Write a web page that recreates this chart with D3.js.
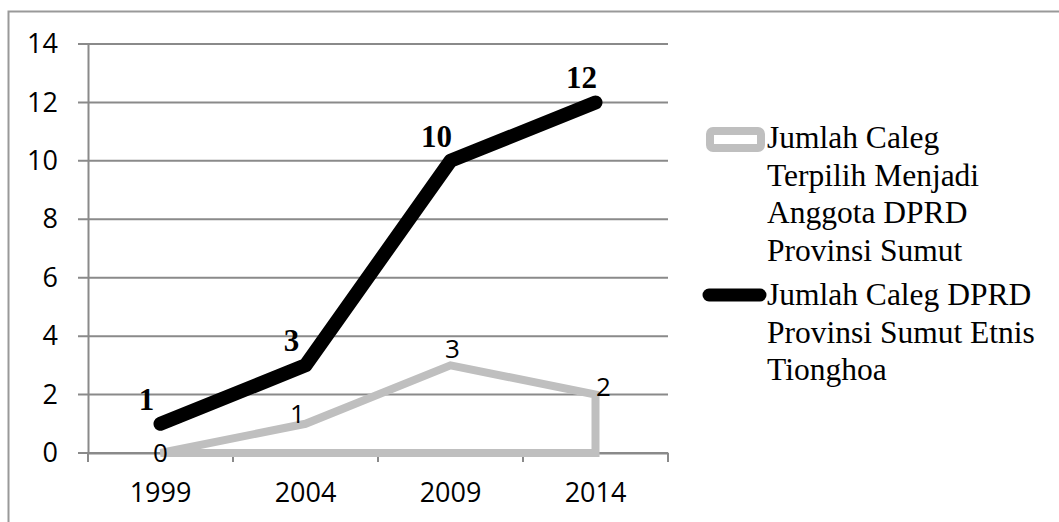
<!DOCTYPE html>
<html>
<head>
<meta charset="utf-8">
<script src="https://cdn.jsdelivr.net/npm/d3@7"></script>
<style>
  html, body { margin: 0; padding: 0; background: #fff; }
  svg { display: block; }
</style>
</head>
<body>
<div id="chart"></div>
<script>
  const YEARS   = ["1999", "2004", "2009", "2014"];
  const TERPILIH = [0, 1, 3, 2];
  const CALEG    = [1, 3, 10, 12];
  const Y_TICKS  = [0, 2, 4, 6, 8, 10, 12, 14];
  const LEGEND_GRAY  = ["Jumlah Caleg", "Terpilih Menjadi", "Anggota DPRD", "Provinsi Sumut"];
  const LEGEND_BLACK = ["Jumlah Caleg DPRD", "Provinsi Sumut Etnis", "Tionghoa"];

  const W = 1059, H = 522;
  const PLOT = { left: 88, right: 668, top: 44, bottom: 453 };
  const SANS  = "'Open Sans', sans-serif";
  const SERIF = "'Liberation Serif', Tinos, 'Times New Roman', Times, serif";
  const GRID  = "#8a8a8a";
  const GRAY  = "#bfbfbf";

  const svg = d3.select("#chart").append("svg")
    .attr("width", W)
    .attr("height", H);

  // outer frame (only top and left edges show)
  svg.append("path")
    .attr("d", `M8.5,${H} V11.5 H${W}`)
    .attr("fill", "none")
    .attr("stroke", "#999")
    .attr("stroke-width", 2);

  const x = d3.scaleBand()
    .domain(YEARS)
    .range([PLOT.left, PLOT.right])
    .padding(0);

  const cx = d => x(d) + x.bandwidth() / 2;

  const y = d3.scaleLinear()
    .domain([0, 14])
    .range([PLOT.bottom, PLOT.top]);

  // gridlines
  svg.append("g")
    .selectAll("line")
    .data(Y_TICKS)
    .join("line")
    .attr("x1", PLOT.left - 10)
    .attr("x2", PLOT.right)
    .attr("y1", d => y(d))
    .attr("y2", d => y(d))
    .attr("stroke", GRID)
    .attr("stroke-width", 2);

  // y axis
  const yAxis = svg.append("g")
    .attr("transform", `translate(${PLOT.left},0)`)
    .call(d3.axisLeft(y).tickValues(Y_TICKS).tickSize(0).tickPadding(30));
  yAxis.select(".domain").attr("stroke", GRID).attr("stroke-width", 2);
  yAxis.selectAll("text")
    .attr("font-family", SANS)
    .attr("font-size", "27px")
    .attr("fill", "#000");

  // x axis
  const xAxis = svg.append("g")
    .attr("transform", `translate(0,${PLOT.bottom})`)
    .call(d3.axisBottom(x).tickSize(0).tickPadding(30));
  xAxis.select(".domain").attr("stroke", GRID).attr("stroke-width", 2);
  xAxis.selectAll("text")
    .attr("font-family", SANS)
    .attr("font-size", "27px")
    .attr("fill", "#000");
  svg.append("g")
    .selectAll("line")
    .data(d3.range(YEARS.length + 1))
    .join("line")
    .attr("x1", i => PLOT.left + i * x.bandwidth())
    .attr("x2", i => PLOT.left + i * x.bandwidth())
    .attr("y1", PLOT.bottom)
    .attr("y2", PLOT.bottom + 9)
    .attr("stroke", GRID)
    .attr("stroke-width", 2);

  const grayData  = YEARS.map((d, i) => ({ year: d, v: TERPILIH[i] }));
  const blackData = YEARS.map((d, i) => ({ year: d, v: CALEG[i] }));

  // gray series drawn as an outlined area
  const area = d3.area()
    .x(d => cx(d.year))
    .y0(y(0))
    .y1(d => y(d.v));

  svg.append("path")
    .datum(grayData)
    .attr("d", area)
    .attr("fill", "none")
    .attr("stroke", GRAY)
    .attr("stroke-width", 8)
    .attr("stroke-linejoin", "miter");

  const line = d3.line()
    .x(d => cx(d.year))
    .y(d => y(d.v));

  svg.append("path")
    .datum(blackData)
    .attr("d", line)
    .attr("fill", "none")
    .attr("stroke", "#000")
    .attr("stroke-width", 14)
    .attr("stroke-linecap", "round")
    .attr("stroke-linejoin", "round");

  // gray labels
  const grayPos = [
    { dx: 0, dy: 9 },
    { dx: -8, dy: -1 },
    { dx: 2, dy: -7 },
    { dx: 8, dy: 1 }
  ];
  svg.append("g")
    .selectAll("text")
    .data(grayData)
    .join("text")
    .attr("x", (d, i) => cx(d.year) + grayPos[i].dx)
    .attr("y", (d, i) => y(d.v) + grayPos[i].dy)
    .attr("text-anchor", "middle")
    .attr("font-family", SANS)
    .attr("font-size", "26px")
    .text(d => d.v);

  // black labels
  svg.append("g")
    .selectAll("text")
    .data(blackData)
    .join("text")
    .attr("x", d => cx(d.year) - 14)
    .attr("y", d => y(d.v) - 14)
    .attr("text-anchor", "middle")
    .attr("font-family", SERIF)
    .attr("font-weight", "bold")
    .attr("font-size", "31px")
    .text(d => d.v);

  // legend
  const leg = svg.append("g");
  leg.append("rect")
    .attr("x", 710)
    .attr("y", 131)
    .attr("width", 51)
    .attr("height", 17)
    .attr("rx", 3)
    .attr("fill", "#fff")
    .attr("stroke", GRAY)
    .attr("stroke-width", 8);
  leg.append("line")
    .attr("x1", 709)
    .attr("x2", 760)
    .attr("y1", 295)
    .attr("y2", 295)
    .attr("stroke", "#000")
    .attr("stroke-width", 13)
    .attr("stroke-linecap", "round");

  const addLines = (lines, y0) => {
    leg.append("g")
      .selectAll("text")
      .data(lines)
      .join("text")
      .attr("x", 767)
      .attr("y", (d, i) => y0 + i * 37.5)
      .attr("font-family", SERIF)
      .attr("font-size", "31.5px")
      .attr("fill", "#000")
      .text(d => d);
  };
  addLines(LEGEND_GRAY, 148);
  addLines(LEGEND_BLACK, 305);
</script>
</body>
</html>
